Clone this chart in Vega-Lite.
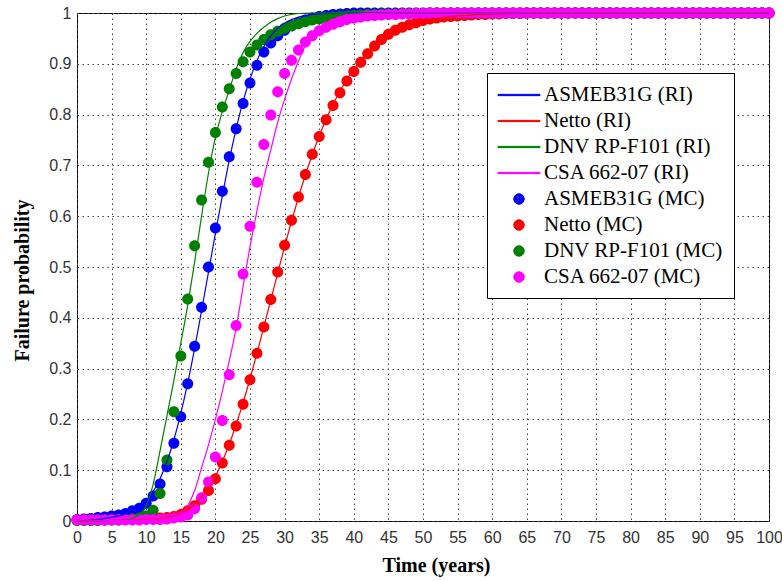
{
  "$schema": "https://vega.github.io/schema/vega-lite/v6.json",
  "width": 692,
  "height": 508,
  "autosize": {"type": "none"},
  "padding": {"left": 77, "top": 13, "right": 13, "bottom": 60},
  "background": "white",
  "config": {
    "view": {"stroke": "#000", "strokeWidth": 1},
    "axis": {
      "labelFont": "Liberation Sans",
      "labelFontSize": 16,
      "labelColor": "#333",
      "labelOverlap": false,
      "labelFlush": false,
      "titleFont": "Liberation Serif",
      "titleFontWeight": "bold",
      "titleFontSize": 20,
      "titleColor": "#000",
      "grid": true,
      "gridColor": "#444",
      "gridDash": [1.5, 3.5],
      "gridWidth": 1,
      "domain": false,
      "ticks": false
    },
    "legend": {
      "orient": "none", "legendX": 410, "legendY": 60, "title": null,
      "labelFont": "Liberation Serif", "labelFontSize": 21, "labelColor": "#000", "labelLimit": 400,
      "symbolSize": 441, "symbolOffset": 10, "symbolStrokeWidth": 1,
      "rowPadding": 5, "labelOffset": 14, "padding": 11,
      "strokeColor": "#000", "fillColor": "#fff"
    }
  },
  "datasets": {
    "aR": [{"t":0,"p":0},{"t":1,"p":0.001},{"t":2,"p":0.002},{"t":3,"p":0.003},{"t":4,"p":0.005},{"t":5,"p":0.007},{"t":6,"p":0.01},{"t":7,"p":0.014},{"t":8,"p":0.02},{"t":9,"p":0.028},{"t":10,"p":0.04},{"t":11,"p":0.058},{"t":12,"p":0.083},{"t":13,"p":0.117},{"t":14,"p":0.16},{"t":15,"p":0.212},{"t":16,"p":0.272},{"t":17,"p":0.34},{"t":18,"p":0.414},{"t":19,"p":0.49},{"t":20,"p":0.566},{"t":21,"p":0.64},{"t":22,"p":0.71},{"t":23,"p":0.772},{"t":24,"p":0.826},{"t":25,"p":0.87},{"t":26,"p":0.906},{"t":27,"p":0.934},{"t":28,"p":0.955},{"t":29,"p":0.97},{"t":30,"p":0.98},{"t":31,"p":0.987},{"t":32,"p":0.992},{"t":33,"p":0.995},{"t":34,"p":0.997},{"t":35,"p":0.998},{"t":36,"p":0.999},{"t":38,"p":1},{"t":100,"p":1}],
    "nR": [{"t":0,"p":0},{"t":5,"p":0.001},{"t":10,"p":0.003},{"t":12,"p":0.005},{"t":13,"p":0.007},{"t":14,"p":0.01},{"t":15,"p":0.015},{"t":16,"p":0.022},{"t":17,"p":0.033},{"t":18,"p":0.047},{"t":19,"p":0.065},{"t":20,"p":0.088},{"t":21,"p":0.117},{"t":22,"p":0.151},{"t":23,"p":0.19},{"t":24,"p":0.233},{"t":25,"p":0.28},{"t":26,"p":0.33},{"t":27,"p":0.382},{"t":28,"p":0.435},{"t":29,"p":0.488},{"t":30,"p":0.54},{"t":31,"p":0.59},{"t":32,"p":0.637},{"t":33,"p":0.681},{"t":34,"p":0.721},{"t":35,"p":0.758},{"t":36,"p":0.791},{"t":37,"p":0.82},{"t":38,"p":0.846},{"t":39,"p":0.869},{"t":40,"p":0.889},{"t":41,"p":0.906},{"t":42,"p":0.921},{"t":43,"p":0.934},{"t":44,"p":0.945},{"t":45,"p":0.954},{"t":46,"p":0.962},{"t":47,"p":0.969},{"t":48,"p":0.974},{"t":49,"p":0.979},{"t":50,"p":0.983},{"t":52,"p":0.989},{"t":54,"p":0.993},{"t":56,"p":0.995},{"t":58,"p":0.997},{"t":60,"p":0.998},{"t":63,"p":0.999},{"t":66,"p":1},{"t":100,"p":1}],
    "dR": [{"t":0,"p":0},{"t":5,"p":0.001},{"t":7,"p":0.002},{"t":8,"p":0.005},{"t":9,"p":0.013},{"t":10,"p":0.03},{"t":11,"p":0.072},{"t":12,"p":0.138},{"t":13,"p":0.207},{"t":14,"p":0.277},{"t":15,"p":0.35},{"t":16,"p":0.425},{"t":17,"p":0.51},{"t":18,"p":0.6},{"t":19,"p":0.685},{"t":20,"p":0.755},{"t":21,"p":0.806},{"t":22,"p":0.848},{"t":23,"p":0.89},{"t":24,"p":0.922},{"t":25,"p":0.944},{"t":26,"p":0.96},{"t":27,"p":0.972},{"t":28,"p":0.982},{"t":29,"p":0.989},{"t":30,"p":0.994},{"t":31,"p":0.997},{"t":32,"p":0.999},{"t":34,"p":1},{"t":100,"p":1}],
    "cR": [{"t":0,"p":0},{"t":5,"p":0.001},{"t":10,"p":0.002},{"t":12,"p":0.003},{"t":13,"p":0.005},{"t":14,"p":0.008},{"t":15,"p":0.014},{"t":16,"p":0.03},{"t":17,"p":0.06},{"t":18,"p":0.105},{"t":19,"p":0.15},{"t":20,"p":0.2},{"t":21,"p":0.255},{"t":22,"p":0.315},{"t":23,"p":0.38},{"t":24,"p":0.462},{"t":25,"p":0.54},{"t":26,"p":0.61},{"t":27,"p":0.675},{"t":28,"p":0.73},{"t":29,"p":0.785},{"t":30,"p":0.83},{"t":31,"p":0.87},{"t":32,"p":0.905},{"t":33,"p":0.935},{"t":34,"p":0.955},{"t":35,"p":0.97},{"t":36,"p":0.98},{"t":37,"p":0.987},{"t":38,"p":0.992},{"t":39,"p":0.995},{"t":40,"p":0.997},{"t":42,"p":0.999},{"t":45,"p":1},{"t":100,"p":1}],
    "aM": [{"t":0,"p":0.003},{"t":1,"p":0.004},{"t":2,"p":0.005},{"t":3,"p":0.007},{"t":4,"p":0.008},{"t":5,"p":0.01},{"t":6,"p":0.012},{"t":7,"p":0.015},{"t":8,"p":0.02},{"t":9,"p":0.025},{"t":10,"p":0.035},{"t":11,"p":0.049},{"t":12,"p":0.073},{"t":13,"p":0.107},{"t":14,"p":0.153},{"t":15,"p":0.205},{"t":16,"p":0.27},{"t":17,"p":0.344},{"t":18,"p":0.421},{"t":19,"p":0.5},{"t":20,"p":0.577},{"t":21,"p":0.649},{"t":22,"p":0.717},{"t":23,"p":0.772},{"t":24,"p":0.822},{"t":25,"p":0.862},{"t":26,"p":0.897},{"t":27,"p":0.923},{"t":28,"p":0.941},{"t":29,"p":0.955},{"t":30,"p":0.966},{"t":31,"p":0.975},{"t":32,"p":0.981},{"t":33,"p":0.986},{"t":34,"p":0.99},{"t":35,"p":0.993},{"t":36,"p":0.995},{"t":37,"p":0.997},{"t":38,"p":0.998},{"t":39,"p":0.999},{"t":40,"p":1},{"t":41,"p":1},{"t":42,"p":1},{"t":43,"p":1},{"t":44,"p":1},{"t":45,"p":1},{"t":46,"p":1},{"t":47,"p":1},{"t":48,"p":1},{"t":49,"p":1},{"t":50,"p":1},{"t":51,"p":1},{"t":52,"p":1},{"t":53,"p":1},{"t":54,"p":1},{"t":55,"p":1},{"t":56,"p":1},{"t":57,"p":1},{"t":58,"p":1},{"t":59,"p":1},{"t":60,"p":1},{"t":61,"p":1},{"t":62,"p":1},{"t":63,"p":1},{"t":64,"p":1},{"t":65,"p":1},{"t":66,"p":1},{"t":67,"p":1},{"t":68,"p":1},{"t":69,"p":1},{"t":70,"p":1},{"t":71,"p":1},{"t":72,"p":1},{"t":73,"p":1},{"t":74,"p":1},{"t":75,"p":1},{"t":76,"p":1},{"t":77,"p":1},{"t":78,"p":1},{"t":79,"p":1},{"t":80,"p":1},{"t":81,"p":1},{"t":82,"p":1},{"t":83,"p":1},{"t":84,"p":1},{"t":85,"p":1},{"t":86,"p":1},{"t":87,"p":1},{"t":88,"p":1},{"t":89,"p":1},{"t":90,"p":1},{"t":91,"p":1},{"t":92,"p":1},{"t":93,"p":1},{"t":94,"p":1},{"t":95,"p":1},{"t":96,"p":1},{"t":97,"p":1},{"t":98,"p":1},{"t":99,"p":1},{"t":100,"p":1}],
    "nM": [{"t":0,"p":0.002},{"t":1,"p":0.002},{"t":2,"p":0.002},{"t":3,"p":0.002},{"t":4,"p":0.002},{"t":5,"p":0.003},{"t":6,"p":0.003},{"t":7,"p":0.003},{"t":8,"p":0.004},{"t":9,"p":0.004},{"t":10,"p":0.005},{"t":11,"p":0.005},{"t":12,"p":0.006},{"t":13,"p":0.007},{"t":14,"p":0.009},{"t":15,"p":0.013},{"t":16,"p":0.02},{"t":17,"p":0.03},{"t":18,"p":0.043},{"t":19,"p":0.06},{"t":20,"p":0.083},{"t":21,"p":0.114},{"t":22,"p":0.149},{"t":23,"p":0.187},{"t":24,"p":0.23},{"t":25,"p":0.278},{"t":26,"p":0.33},{"t":27,"p":0.382},{"t":28,"p":0.436},{"t":29,"p":0.49},{"t":30,"p":0.543},{"t":31,"p":0.592},{"t":32,"p":0.638},{"t":33,"p":0.682},{"t":34,"p":0.722},{"t":35,"p":0.757},{"t":36,"p":0.79},{"t":37,"p":0.818},{"t":38,"p":0.843},{"t":39,"p":0.866},{"t":40,"p":0.885},{"t":41,"p":0.903},{"t":42,"p":0.92},{"t":43,"p":0.935},{"t":44,"p":0.948},{"t":45,"p":0.958},{"t":46,"p":0.966},{"t":47,"p":0.972},{"t":48,"p":0.977},{"t":49,"p":0.981},{"t":50,"p":0.985},{"t":51,"p":0.988},{"t":52,"p":0.99},{"t":53,"p":0.992},{"t":54,"p":0.993},{"t":55,"p":0.994},{"t":56,"p":0.995},{"t":57,"p":0.996},{"t":58,"p":0.997},{"t":59,"p":0.997},{"t":60,"p":0.998},{"t":61,"p":0.998},{"t":62,"p":0.999},{"t":63,"p":0.999},{"t":64,"p":0.999},{"t":65,"p":1},{"t":66,"p":1},{"t":67,"p":1},{"t":68,"p":1},{"t":69,"p":1},{"t":70,"p":1},{"t":71,"p":1},{"t":72,"p":1},{"t":73,"p":1},{"t":74,"p":1},{"t":75,"p":1},{"t":76,"p":1},{"t":77,"p":1},{"t":78,"p":1},{"t":79,"p":1},{"t":80,"p":1},{"t":81,"p":1},{"t":82,"p":1},{"t":83,"p":1},{"t":84,"p":1},{"t":85,"p":1},{"t":86,"p":1},{"t":87,"p":1},{"t":88,"p":1},{"t":89,"p":1},{"t":90,"p":1},{"t":91,"p":1},{"t":92,"p":1},{"t":93,"p":1},{"t":94,"p":1},{"t":95,"p":1},{"t":96,"p":1},{"t":97,"p":1},{"t":98,"p":1},{"t":99,"p":1},{"t":100,"p":1}],
    "dM": [{"t":0,"p":0.001},{"t":1,"p":0.001},{"t":2,"p":0.001},{"t":3,"p":0.001},{"t":4,"p":0.002},{"t":5,"p":0.002},{"t":6,"p":0.002},{"t":7,"p":0.003},{"t":8,"p":0.004},{"t":9,"p":0.006},{"t":10,"p":0.01},{"t":11,"p":0.021},{"t":12,"p":0.054},{"t":13,"p":0.12},{"t":14,"p":0.215},{"t":15,"p":0.325},{"t":16,"p":0.437},{"t":17,"p":0.542},{"t":18,"p":0.632},{"t":19,"p":0.706},{"t":20,"p":0.765},{"t":21,"p":0.815},{"t":22,"p":0.851},{"t":23,"p":0.881},{"t":24,"p":0.904},{"t":25,"p":0.923},{"t":26,"p":0.937},{"t":27,"p":0.948},{"t":28,"p":0.957},{"t":29,"p":0.964},{"t":30,"p":0.97},{"t":31,"p":0.975},{"t":32,"p":0.979},{"t":33,"p":0.983},{"t":34,"p":0.986},{"t":35,"p":0.988},{"t":36,"p":0.99},{"t":37,"p":0.992},{"t":38,"p":0.993},{"t":39,"p":0.994},{"t":40,"p":0.995},{"t":41,"p":0.996},{"t":42,"p":0.997},{"t":43,"p":0.997},{"t":44,"p":0.998},{"t":45,"p":0.998},{"t":46,"p":0.998},{"t":47,"p":0.999},{"t":48,"p":0.999},{"t":49,"p":0.999},{"t":50,"p":0.999},{"t":51,"p":1},{"t":52,"p":1},{"t":53,"p":1},{"t":54,"p":1},{"t":55,"p":1},{"t":56,"p":1},{"t":57,"p":1},{"t":58,"p":1},{"t":59,"p":1},{"t":60,"p":1},{"t":61,"p":1},{"t":62,"p":1},{"t":63,"p":1},{"t":64,"p":1},{"t":65,"p":1},{"t":66,"p":1},{"t":67,"p":1},{"t":68,"p":1},{"t":69,"p":1},{"t":70,"p":1},{"t":71,"p":1},{"t":72,"p":1},{"t":73,"p":1},{"t":74,"p":1},{"t":75,"p":1},{"t":76,"p":1},{"t":77,"p":1},{"t":78,"p":1},{"t":79,"p":1},{"t":80,"p":1},{"t":81,"p":1},{"t":82,"p":1},{"t":83,"p":1},{"t":84,"p":1},{"t":85,"p":1},{"t":86,"p":1},{"t":87,"p":1},{"t":88,"p":1},{"t":89,"p":1},{"t":90,"p":1},{"t":91,"p":1},{"t":92,"p":1},{"t":93,"p":1},{"t":94,"p":1},{"t":95,"p":1},{"t":96,"p":1},{"t":97,"p":1},{"t":98,"p":1},{"t":99,"p":1},{"t":100,"p":1}],
    "cM": [{"t":0,"p":0.002},{"t":1,"p":0.002},{"t":2,"p":0.002},{"t":3,"p":0.002},{"t":4,"p":0.002},{"t":5,"p":0.002},{"t":6,"p":0.002},{"t":7,"p":0.002},{"t":8,"p":0.002},{"t":9,"p":0.002},{"t":10,"p":0.003},{"t":11,"p":0.003},{"t":12,"p":0.003},{"t":13,"p":0.004},{"t":14,"p":0.006},{"t":15,"p":0.008},{"t":16,"p":0.012},{"t":17,"p":0.024},{"t":18,"p":0.046},{"t":19,"p":0.077},{"t":20,"p":0.126},{"t":21,"p":0.198},{"t":22,"p":0.288},{"t":23,"p":0.385},{"t":24,"p":0.486},{"t":25,"p":0.58},{"t":26,"p":0.667},{"t":27,"p":0.741},{"t":28,"p":0.799},{"t":29,"p":0.845},{"t":30,"p":0.881},{"t":31,"p":0.907},{"t":32,"p":0.927},{"t":33,"p":0.943},{"t":34,"p":0.955},{"t":35,"p":0.965},{"t":36,"p":0.972},{"t":37,"p":0.978},{"t":38,"p":0.983},{"t":39,"p":0.987},{"t":40,"p":0.99},{"t":41,"p":0.992},{"t":42,"p":0.994},{"t":43,"p":0.995},{"t":44,"p":0.996},{"t":45,"p":0.997},{"t":46,"p":0.997},{"t":47,"p":0.998},{"t":48,"p":0.998},{"t":49,"p":0.999},{"t":50,"p":0.999},{"t":51,"p":1},{"t":52,"p":1},{"t":53,"p":1},{"t":54,"p":1},{"t":55,"p":1},{"t":56,"p":1},{"t":57,"p":1},{"t":58,"p":1},{"t":59,"p":1},{"t":60,"p":1},{"t":61,"p":1},{"t":62,"p":1},{"t":63,"p":1},{"t":64,"p":1},{"t":65,"p":1},{"t":66,"p":1},{"t":67,"p":1},{"t":68,"p":1},{"t":69,"p":1},{"t":70,"p":1},{"t":71,"p":1},{"t":72,"p":1},{"t":73,"p":1},{"t":74,"p":1},{"t":75,"p":1},{"t":76,"p":1},{"t":77,"p":1},{"t":78,"p":1},{"t":79,"p":1},{"t":80,"p":1},{"t":81,"p":1},{"t":82,"p":1},{"t":83,"p":1},{"t":84,"p":1},{"t":85,"p":1},{"t":86,"p":1},{"t":87,"p":1},{"t":88,"p":1},{"t":89,"p":1},{"t":90,"p":1},{"t":91,"p":1},{"t":92,"p":1},{"t":93,"p":1},{"t":94,"p":1},{"t":95,"p":1},{"t":96,"p":1},{"t":97,"p":1},{"t":98,"p":1},{"t":99,"p":1},{"t":100,"p":1}]
  },
  "encoding": {
    "x": {
      "field": "t", "type": "quantitative",
      "scale": {"domain": [0, 100], "nice": false},
      "axis": {"title": "Time (years)", "values": [0,5,10,15,20,25,30,35,40,45,50,55,60,65,70,75,80,85,90,95,100], "labelPadding": 8, "titlePadding": 10, "titleX": 359}
    },
    "y": {
      "field": "p", "type": "quantitative",
      "scale": {"domain": [0, 1], "nice": false},
      "axis": {"title": "Failure probability", "format": "~g", "values": [0,0.1,0.2,0.3,0.4,0.5,0.6,0.7,0.8,0.9,1], "labelPadding": 6, "titlePadding": 16, "titleY": 267}
    }
  },
  "layer": [
    {
      "data": {"name": "aM"},
      "mark": {"type": "point", "filled": true, "size": 484, "opacity": 1},
      "encoding": {
        "color": {
          "datum": "ASMEB31G (MC)", "type": "nominal",
          "scale": {
            "domain": ["ASMEB31G (RI)", "Netto (RI)", "DNV RP-F101 (RI)", "CSA 662-07 (RI)", "ASMEB31G (MC)", "Netto (MC)", "DNV RP-F101 (MC)", "CSA 662-07 (MC)"],
            "range": ["#0000ff", "#ff0000", "#008000", "#ff00ff", "#0000ff", "#ff0000", "#008000", "#ff00ff"]
          }
        },
        "shape": {
          "datum": "ASMEB31G (MC)", "type": "nominal",
          "scale": {
            "domain": ["ASMEB31G (RI)", "Netto (RI)", "DNV RP-F101 (RI)", "CSA 662-07 (RI)", "ASMEB31G (MC)", "Netto (MC)", "DNV RP-F101 (MC)", "CSA 662-07 (MC)"],
            "range": ["M-2,-0.06H2V0.06H-2Z", "M-2,-0.06H2V0.06H-2Z", "M-2,-0.06H2V0.06H-2Z", "M-2,-0.06H2V0.06H-2Z", "M0.5,0A0.5,0.5,0,1,1,-0.5,0A0.5,0.5,0,1,1,0.5,0Z", "M0.5,0A0.5,0.5,0,1,1,-0.5,0A0.5,0.5,0,1,1,0.5,0Z", "M0.5,0A0.5,0.5,0,1,1,-0.5,0A0.5,0.5,0,1,1,0.5,0Z", "M0.5,0A0.5,0.5,0,1,1,-0.5,0A0.5,0.5,0,1,1,0.5,0Z"]
          }
        }
      }
    },
    {"data": {"name": "nM"}, "mark": {"type": "point", "filled": true, "size": 484, "opacity": 1}, "encoding": {"color": {"datum": "Netto (MC)", "type": "nominal"}, "shape": {"datum": "Netto (MC)", "type": "nominal"}}},
    {"data": {"name": "dM"}, "mark": {"type": "point", "filled": true, "size": 484, "opacity": 1}, "encoding": {"color": {"datum": "DNV RP-F101 (MC)", "type": "nominal"}, "shape": {"datum": "DNV RP-F101 (MC)", "type": "nominal"}}},
    {"data": {"name": "cM"}, "mark": {"type": "point", "filled": true, "size": 484, "opacity": 1}, "encoding": {"color": {"datum": "CSA 662-07 (MC)", "type": "nominal"}, "shape": {"datum": "CSA 662-07 (MC)", "type": "nominal"}}},
    {"data": {"name": "aR"}, "mark": {"type": "line", "strokeWidth": 1.2, "interpolate": "monotone"}, "encoding": {"color": {"datum": "ASMEB31G (RI)", "type": "nominal"}}},
    {"data": {"name": "nR"}, "mark": {"type": "line", "strokeWidth": 1.2, "interpolate": "monotone"}, "encoding": {"color": {"datum": "Netto (RI)", "type": "nominal"}}},
    {"data": {"name": "dR"}, "mark": {"type": "line", "strokeWidth": 1.2, "interpolate": "monotone"}, "encoding": {"color": {"datum": "DNV RP-F101 (RI)", "type": "nominal"}}},
    {"data": {"name": "cR"}, "mark": {"type": "line", "strokeWidth": 1.2, "interpolate": "monotone"}, "encoding": {"color": {"datum": "CSA 662-07 (RI)", "type": "nominal"}}}
  ]
}
